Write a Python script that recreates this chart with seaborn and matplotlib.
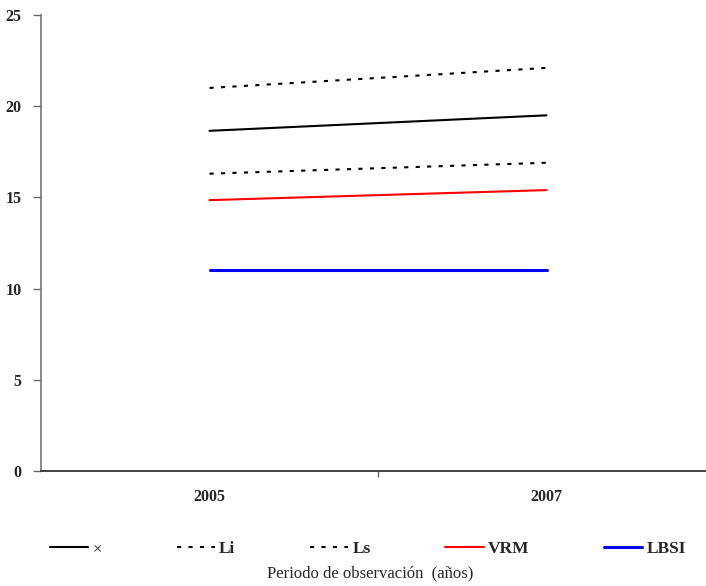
import numpy as np
import seaborn as sns
import matplotlib.pyplot as plt

years = ["2005", "2007"]
media = [18.65, 19.5]
li = [16.3, 16.9]
ls = [21.0, 22.1]
vrm = [14.85, 15.4]
lbsi = [11.0, 11.0]

sns.set_style("white")
plt.rcParams["font.family"] = ["Liberation Serif", "DejaVu Serif"]

W, H = 706, 586
fig = plt.figure(figsize=(W / 100, H / 100), dpi=100)
# axes run past the right edge, the original is clipped there
ax = fig.add_axes([41 / W, 1 - 471 / H, 674 / W, 456 / H])

xpos = np.arange(len(years)) + 0.5

series = [
    (media, "×", "black", 1.5, None),
    (li, "Li", "black", 1.5, (2, 3.5)),
    (ls, "Ls", "black", 1.5, (2, 3.5)),
    (vrm, "VRM", "red", 1.5, None),
    (lbsi, "LBSI", "blue", 2.2, None),
]
for vals, lab, col, lw, dash in series:
    sns.lineplot(x=xpos, y=vals, ax=ax, color=col, linewidth=lw, label=lab)
    if dash:
        ax.lines[-1].set_dashes(dash)

ax.set_xlim(0, len(years))
ax.set_ylim(0, 25)
ax.set_yticks(range(0, 26, 5))
ax.set_xticks([1])
ax.set_xticklabels([""])
ax.set_xticks(xpos, minor=True)
ax.set_xticklabels(years, minor=True)
ax.tick_params(axis="x", which="major", direction="out", length=4, width=1, color="#666666", bottom=True)
ax.tick_params(axis="x", which="minor", length=0, pad=13, labelsize=11.5, bottom=True)
ax.tick_params(axis="y", direction="out", length=6, width=1, color="#666666", pad=8, labelsize=11.5, left=True)
for t in ax.get_xticklabels(minor=True) + ax.get_yticklabels():
    t.set_fontweight("bold")

for s in ["top", "right"]:
    ax.spines[s].set_visible(False)
ax.spines["left"].set_color("#777777")
ax.spines["bottom"].set_color("#222222")
ax.spines["left"].set_linewidth(1.2)
ax.spines["bottom"].set_linewidth(1.2)

handles, labels = ax.get_legend_handles_labels()
ax.get_legend().remove()
leg = fig.legend(handles, labels, loc="center", ncol=5, frameon=False,
                 bbox_to_anchor=(368 / W, 1 - 549 / H),
                 handlelength=2.2, handletextpad=0.25, columnspacing=4.3,
                 prop={"size": 12.5, "weight": "bold"})
leg.get_texts()[0].set_fontweight("normal")
leg.get_texts()[0].set_fontsize(12)

fig.text(370 / W, 1 - 573 / H, "Periodo de observación  (años)", ha="center", va="center", fontsize=12)

fig.savefig("out.png", dpi=100)
